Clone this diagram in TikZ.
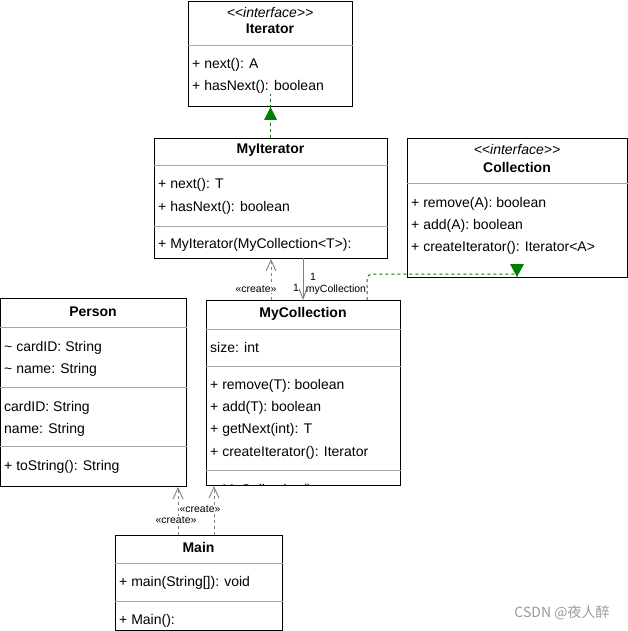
\documentclass[tikz,border=0pt]{standalone}
\usepackage{fontspec}
\setmainfont{Liberation Sans}
\newfontfamily\cjkfont{Noto Sans CJK SC}
\usepackage{tikz}
\usetikzlibrary{arrows.meta}
\definecolor{umlgreen}{HTML}{008000}
\definecolor{umlgray}{HTML}{808080}

\begin{document}
\begin{tikzpicture}[
            x=1pt, y=-1pt,
            classbox/.style={draw, line width=1pt, anchor=north west, inner sep=0pt},
            member/.style={anchor=base west, inner sep=0pt, font=\fontsize{14}{16}\selectfont},
            classname/.style={anchor=base, inner sep=0pt, font=\fontsize{14}{16}\selectfont\bfseries},
            stereotype/.style={anchor=base, inner sep=0pt, font=\fontsize{14}{16}\selectfont\itshape},
            divider/.style={draw=umlgray!70, line width=0.8pt},
            realize/.style={draw=umlgreen, line width=1pt, dash pattern=on 3pt off 3pt},
            create/.style={draw=umlgray, line width=0.9pt, dash pattern=on 3pt off 3pt,
              -{Straight Barb[length=11pt, width=10pt]}},
            assoc/.style={draw=umlgray, line width=1pt, -{Straight Barb[length=10pt, width=8pt]}},
            edgelabel/.style={inner sep=1pt, font=\fontsize{10.5}{12}\selectfont},
          ]
          \useasboundingbox (0,0) rectangle (627,631);

          % Iterator
          \node[classbox, minimum width=164pt, minimum height=105pt] (iterator) at (188,1) {};
          \node[stereotype] (itStereo) at (270,18) {<\kern0pt<interface>\kern0pt>};
          \node[classname] (itName) at (270,34) {Iterator};
          \draw[divider] (iterator.west |- 0,45) -- (iterator.east |- 0,45);
          \node[member] (itNext) at (192,69) {+ next(): A};
          \node[member] (itHasNext) at (192,91) {+ hasNext(): boolean};

          % MyIterator
          \node[classbox, minimum width=233pt, minimum height=120pt] (myIterator) at (154,138) {};
          \node[classname] (miName) at (270.5,154) {MyIterator};
          \draw[divider] (myIterator.west |- 0,165) -- (myIterator.east |- 0,165);
          \node[member] (miNext) at (158,189) {+ next(): T};
          \node[member] (miHasNext) at (158,211) {+ hasNext(): boolean};
          \draw[divider] (myIterator.west |- 0,226) -- (myIterator.east |- 0,226);
          \node[member] (miCtor) at (158,248) {+ MyIterator(MyCollection<T>):};

          % Collection
          \node[classbox, minimum width=220pt, minimum height=139pt] (collection) at (407,138) {};
          \node[stereotype] (coStereo) at (517,155) {<\kern0pt<interface>\kern0pt>};
          \node[classname] (coName) at (517,172) {Collection};
          \draw[divider] (collection.west |- 0,183) -- (collection.east |- 0,183);
          \node[member] (coRemove) at (411,207) {+ remove(A): boolean};
          \node[member] (coAdd) at (411,229) {+ add(A): boolean};
          \node[member] (coCreate) at (411,251) {+ createIterator(): Iterator<A>};

          % Person
          \node[classbox, minimum width=186pt, minimum height=188pt] (person) at (0,298) {};
          \node[classname] (peName) at (93,316) {Person};
          \draw[divider] (person.west |- 0,327) -- (person.east |- 0,327);
          \node[member] (peCard) at (4,351) {\textasciitilde{} cardID: String};
          \node[member] (peNameField) at (4,373) {\textasciitilde{} name: String};
          \draw[divider] (person.west |- 0,387) -- (person.east |- 0,387);
          \node[member] (peCardArg) at (4,411) {cardID: String};
          \node[member] (peNameArg) at (4,433) {name: String};
          \draw[divider] (person.west |- 0,446) -- (person.east |- 0,446);
          \node[member] (peToString) at (4,470) {+ toString(): String};

          % MyCollection
          \node[classbox, minimum width=194pt, minimum height=185pt] (myCollection) at (206,300) {};
          \node[classname] (mcName) at (303,317) {MyCollection};
          \draw[divider] (myCollection.west |- 0,329) -- (myCollection.east |- 0,329);
          \node[member] (mcSize) at (210,352) {size: int};
          \draw[divider] (myCollection.west |- 0,366) -- (myCollection.east |- 0,366);
          \node[member] (mcRemove) at (210,389) {+ remove(T): boolean};
          \node[member] (mcAdd) at (210,411) {+ add(T): boolean};
          \node[member] (mcGetNext) at (210,433) {+ getNext(int): T};
          \node[member] (mcCreate) at (210,456) {+ createIterator(): Iterator};
          \draw[divider] (myCollection.west |- 0,470) -- (myCollection.east |- 0,470);
          \begin{scope}
            \clip (207,471) rectangle (399,484);
            \node[member] (mcCtor) at (210,494.5) {+ MyCollection()};
          \end{scope}

          % Main
          \node[classbox, minimum width=167pt, minimum height=95pt] (mainClass) at (115,535) {};
          \node[classname] (maName) at (198.5,552) {Main};
          \draw[divider] (mainClass.west |- 0,563) -- (mainClass.east |- 0,563);
          \node[member] (maMain) at (119,586) {+ main(String[]): void};
          \draw[divider] (mainClass.west |- 0,601) -- (mainClass.east |- 0,601);
          \node[member] (maCtor) at (119,624) {+ Main():};

          % MyIterator realizes Iterator
          \coordinate (itTip) at (iterator.south);
          \draw[realize] (myIterator.north -| itTip) -- ([yshift=13pt]itTip);
          \fill[umlgreen] (itTip) -- ++(-6.5,13) -- ++(13,0) -- cycle;

          % MyCollection realizes Collection
          \coordinate (coFrom) at (367,300);
          \coordinate (coTip) at (517,277);
          \draw[realize, rounded corners=5pt] (coFrom) |- ([yshift=3pt]coTip);
          \fill[umlgreen] (coTip) -- ++(-7,-13) -- ++(14,0) -- cycle;

          % MyCollection creates MyIterator
          \draw[create] (myCollection.north -| myIterator.south) -- (myIterator.south);
          \node[edgelabel, fill=white] (createIt) at (256,289) {«create»};

          % MyIterator holds myCollection
          \coordinate (assocFrom) at (303,258);
          \draw[assoc] (assocFrom) -- (assocFrom |- myCollection.north);
          \node[edgelabel] (multTop) at (313,277) {1};
          \node[edgelabel] (roleName) at (336,290) {myCollection};
          \node[edgelabel] (multLeft) at (296,288) {1};

          % Main creates Person and MyCollection
          \coordinate (maPerson) at (178,535);
          \coordinate (maColl) at (214,535);
          \draw[create] (maPerson) -- (maPerson |- person.south);
          \draw[create] (maColl) -- (maColl |- myCollection.south);
          \node[edgelabel, fill=white] (createColl) at (200,509) {«create»};
          \node[edgelabel, fill=white] (createPerson) at (176,520) {«create»};

          \node[font=\cjkfont\fontsize{14}{16}\selectfont, text=umlgray!80] (watermark) at (562,613) {CSDN @夜人醉};
\end{tikzpicture}
\end{document}
